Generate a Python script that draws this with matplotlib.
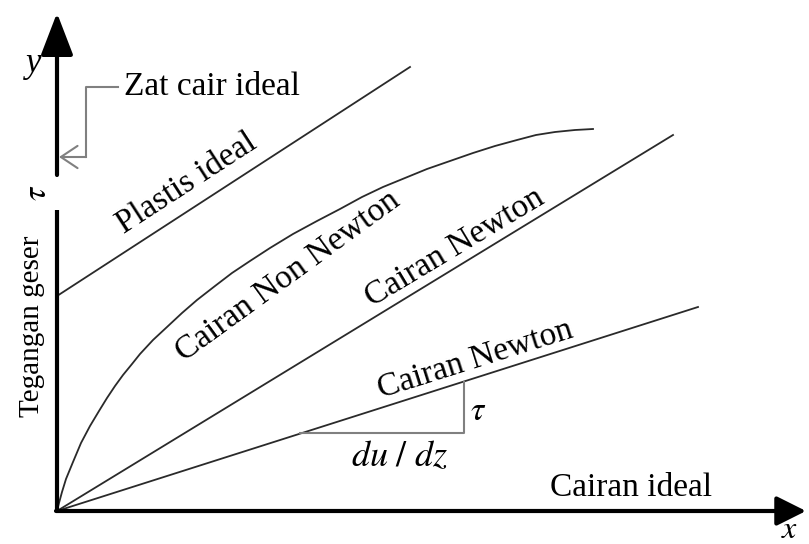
import numpy as np
import matplotlib.pyplot as plt
import matplotlib
matplotlib.rcParams['font.family'] = ['Liberation Serif', 'DejaVu Serif']
matplotlib.rcParams['mathtext.fontset'] = 'stix'

# shear rate (x) vs shear stress (y), arbitrary units
plastis_x = [0, 353]
plastis_y = [215, 444]

nonnewton_x = [0, 2, 5, 9, 16, 24, 33, 42, 50, 58, 66, 75, 83, 96, 110, 125, 140, 158,
               175, 193, 213, 236, 260, 283, 305, 326, 348, 370, 393, 416, 438, 460,
               479, 498, 518, 536]
nonnewton_y = [0, 8, 19, 32, 49, 68, 85, 100, 113, 125, 136, 147, 157, 171, 184, 198,
               211, 225, 238, 250, 263, 277, 290, 302, 314, 324, 333, 342, 350, 358,
               365, 371, 376, 379, 381, 382]

newton1_x = [0, 616]
newton1_y = [0, 376]

newton2_x = [0, 641]
newton2_y = [0, 204]

# slope triangle on the lower Newton line
tri_x = [243, 407, 407]
tri_y = [78, 78, 129]

fig = plt.figure(figsize=(8.09, 5.44), dpi=100)
ax = fig.add_axes([0, 0, 1, 1])
ax.set_xlim(-57, 752)
ax.set_ylim(-33, 511)
ax.axis('off')

lc = '#2a2a2a'
ax.plot(plastis_x, plastis_y, color=lc, lw=1.3)
ax.plot(nonnewton_x, nonnewton_y, color=lc, lw=1.3)
ax.plot(newton1_x, newton1_y, color=lc, lw=1.3)
ax.plot(newton2_x, newton2_y, color=lc, lw=1.3)
ax.plot(tri_x, tri_y, color='#808080', lw=1.5)

# axes with arrows
ax.annotate('', xy=(749, 0), xytext=(-1, 0),
            arrowprops=dict(arrowstyle='-|>,head_length=0.9,head_width=0.45',
                            lw=3, color='black', mutation_scale=20, shrinkA=0, shrinkB=0))
ax.plot([0, 0], [0, 301], color='black', lw=3, solid_capstyle='butt')
ax.annotate('', xy=(0, 498), xytext=(0, 336),
            arrowprops=dict(arrowstyle='-|>,head_length=1.3,head_width=0.5',
                            lw=3, color='black', mutation_scale=20, shrinkA=0, shrinkB=0))

# bracket pointing at the y axis
ax.plot([61, 29, 29], [424, 424, 354], color='#808080', lw=1.5)
ax.annotate('', xy=(2, 354), xytext=(29, 354),
            arrowprops=dict(arrowstyle='->,head_length=0.6,head_width=0.4',
                            lw=1.5, color='#808080', mutation_scale=20, shrinkA=0, shrinkB=0))

fs = 24
ax.text(67, 424, 'Zat cair ideal', fontsize=fs, ha='left', va='center')
ax.text(-23, 448, 'y', fontsize=fs + 1, style='italic', ha='center', va='center')
ax.text(-19, 318, r'$\tau$', fontsize=fs, rotation=90, ha='center', va='center')
ax.text(-25, 185, 'Tegangan geser', fontsize=21, rotation=90, ha='center', va='center')

ax.text(130, 328, 'Plastis ideal', fontsize=fs, rotation=33, rotation_mode='anchor',
        ha='center', va='center')
ax.text(231, 235, 'Cairan Non Newton', fontsize=fs, rotation=36, rotation_mode='anchor',
        ha='center', va='center')
ax.text(398, 263, 'Cairan Newton', fontsize=fs, rotation=31, rotation_mode='anchor',
        ha='center', va='center')
ax.text(418, 151, 'Cairan Newton', fontsize=fs, rotation=17.5, rotation_mode='anchor',
        ha='center', va='center')
ax.text(574, 23, 'Cairan ideal', fontsize=fs, ha='center', va='center')
ax.text(421, 99, r'$\tau$', fontsize=fs, ha='center', va='center')
ax.text(343, 53, r'$du\ /\ dz$', fontsize=fs + 2, ha='center', va='center')
ax.text(733, -27, r'$x$', fontsize=fs - 1, ha='center', va='baseline')

plt.savefig('out.png', dpi=100)
